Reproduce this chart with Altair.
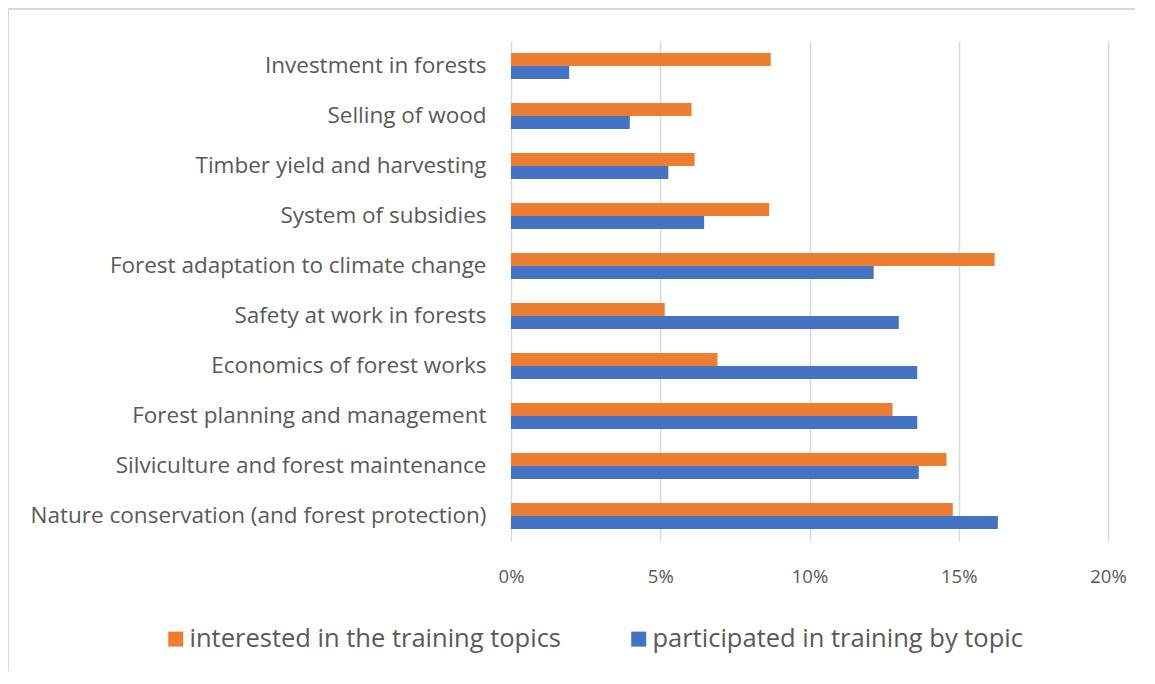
import altair as alt
import pandas as pd

topics = [
    "Investment in forests",
    "Selling of wood",
    "Timber yield and harvesting",
    "System of subsidies",
    "Forest adaptation to climate change",
    "Safety at work in forests",
    "Economics of forest works",
    "Forest planning and management",
    "Silviculture and forest maintenance",
    "Nature conservation (and forest protection)",
]
interested = [8.7, 6.05, 6.15, 8.65, 16.2, 5.15, 6.92, 12.78, 14.59, 14.8]
participated = [1.95, 3.98, 5.27, 6.47, 12.15, 12.99, 13.61, 13.61, 13.66, 16.31]
series = ["interested in the training topics", "participated in training by topic"]
colors = ["#ED7D31", "#4472C4"]
x_ticks = [0, 0.05, 0.10, 0.15, 0.20]

rows = []
for t, a, b in zip(topics, interested, participated):
    rows.append({"topic": t, "series": series[0], "value": a / 100})
    rows.append({"topic": t, "series": series[1], "value": b / 100})
df = pd.DataFrame(rows)

FONT = "Open Sans"
GRAY = "#595959"

bars = alt.Chart(df).mark_bar(size=13).encode(
    x=alt.X("value:Q",
            scale=alt.Scale(domain=[0, 0.2], nice=False),
            axis=alt.Axis(values=x_ticks, format=".0%", title=None, grid=True,
                          gridColor="#d9d9d9", gridWidth=1.5, domain=False,
                          ticks=False, labelPadding=26, labelFontSize=18.5,
                          labelFlush=False,
                          labelColor=GRAY, labelFont=FONT)),
    y=alt.Y("topic:N", sort=topics,
            scale=alt.Scale(paddingInner=0.48, paddingOuter=0.24),
            axis=alt.Axis(title=None, domain=False, ticks=False, labelPadding=25,
                          labelFontSize=22.5, labelColor=GRAY, labelFont=FONT,
                          labelLimit=600)),
    yOffset=alt.YOffset("series:N", sort=series),
    color=alt.Color("series:N", sort=series,
                    scale=alt.Scale(domain=series, range=colors),
                    legend=alt.Legend(title=None, orient="none", direction="horizontal",
                                      legendX=-348, legendY=585,
                                      symbolType="square", symbolSize=225,
                                      symbolStrokeWidth=0, symbolOffset=0,
                                      labelFontSize=25.5, labelColor=GRAY,
                                      labelFont=FONT, columnPadding=64,
                                      labelLimit=700, labelOffset=1)),
)

frame_top = alt.Chart(pd.DataFrame({"a": [0]})).mark_rule(color="#d9d9d9", strokeWidth=2).encode(
    x=alt.value(-503), x2=alt.value(700), y=alt.value(-32))
frame_left = alt.Chart(pd.DataFrame({"a": [0]})).mark_rule(color="#d9d9d9", strokeWidth=2).encode(
    x=alt.value(-503), y=alt.value(-32), y2=alt.value(700))

chart = alt.layer(bars, frame_top, frame_left).properties(
    width=597, height=500,
    autosize=alt.AutoSizeParams(type="none"),
    padding={"left": 503, "top": 33, "right": 27, "bottom": 130},
).configure_view(stroke=None)

chart.save("out.html", embed_options={"renderer": "svg", "actions": False})
